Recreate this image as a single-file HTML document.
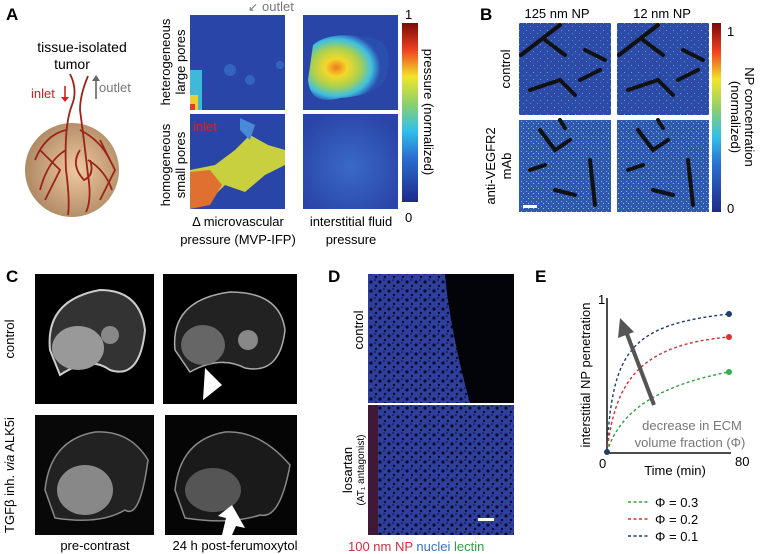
<!DOCTYPE html>
<html><head><meta charset="utf-8"><style>
body{margin:0;background:#fff;width:764px;height:554px;overflow:hidden}
svg{display:block;font-family:"Liberation Sans",sans-serif}
</style></head><body>
<svg width="764" height="554" viewBox="0 0 764 554" xmlns="http://www.w3.org/2000/svg">
<defs>
<linearGradient id="jet" x1="0" y1="1" x2="0" y2="0">
<stop offset="0" stop-color="#1e2a8a"/><stop offset="0.25" stop-color="#2a6fd0"/><stop offset="0.4" stop-color="#31c0e8"/><stop offset="0.55" stop-color="#8ed06a"/><stop offset="0.7" stop-color="#f1e52a"/><stop offset="0.85" stop-color="#f04020"/><stop offset="1" stop-color="#7a0a0a"/>
</linearGradient>
<radialGradient id="sph" cx="0.55" cy="0.5" r="0.6"><stop offset="0" stop-color="#f0c8a0"/><stop offset="1" stop-color="#a8845e"/></radialGradient>
<radialGradient id="ifp" cx="0.35" cy="0.5" r="0.55"><stop offset="0" stop-color="#f07a20"/><stop offset="0.25" stop-color="#f3d82a"/><stop offset="0.55" stop-color="#a8d050"/><stop offset="0.8" stop-color="#40c0e0"/><stop offset="1" stop-color="#2a4fb0"/></radialGradient>
<radialGradient id="ifp2" cx="0.5" cy="0.55" r="0.6"><stop offset="0" stop-color="#3a6ac8"/><stop offset="1" stop-color="#2a45a8"/></radialGradient>
<pattern id="speck" width="9" height="9" patternUnits="userSpaceOnUse">
<rect width="9" height="9" fill="#2f3f9c"/><circle cx="2" cy="3" r="1.6" fill="#0a0a30"/><circle cx="7" cy="7" r="1.2" fill="#0a0a30"/><circle cx="6" cy="1" r="0.8" fill="#0a0a30"/>
</pattern>
<pattern id="bnoise" width="7" height="7" patternUnits="userSpaceOnUse">
<rect width="7" height="7" fill="#2c4ca8"/><rect x="1" y="2" width="1" height="1" fill="#5aa0e0"/><rect x="5" y="5" width="1" height="1" fill="#4a88d0"/>
</pattern>
<pattern id="bnoise2" width="5" height="5" patternUnits="userSpaceOnUse">
<rect width="5" height="5" fill="#3058b0"/><rect x="1" y="1" width="1" height="1" fill="#6ab8e0"/><rect x="3" y="3" width="1" height="1" fill="#8ad0c0"/>
</pattern>
</defs>

<g font-weight="bold" font-size="17" fill="#000">
<text x="6" y="20">A</text><text x="480" y="20">B</text>
<text x="6" y="282">C</text><text x="328" y="282">D</text><text x="535" y="282">E</text>
</g>

<text x="82" y="52" font-size="14" text-anchor="middle">tissue-isolated</text>
<text x="72" y="69" font-size="14" text-anchor="middle">tumor</text>
<text x="31" y="98" font-size="13" fill="#d02020">inlet</text>
<path d="M65 86 V100" stroke="#d02020" stroke-width="1.6"/><path d="M61 97 L65 102 L69 97Z" fill="#d02020"/>
<path d="M96 99 V78" stroke="#666" stroke-width="1.6"/><path d="M92 81 L96 75 L100 81Z" fill="#666"/>
<text x="99" y="92" font-size="13" fill="#777">outlet</text>
<circle cx="72" cy="170" r="47" fill="url(#sph)"/>
<g stroke="#9a2418" stroke-width="1.8" fill="none">
<path d="M70 74 Q78 90 72 105 Q64 125 66 170 Q70 200 68 215"/>
<path d="M88 76 Q80 95 80 110 Q84 140 88 175 Q92 200 86 212"/>
<path d="M66 130 Q45 135 35 160 M66 150 Q48 160 40 190 M80 130 Q100 140 110 160 M88 160 Q105 170 112 190 M80 150 Q70 165 84 180 Q95 175 90 160"/>
<path d="M40 150 L60 170 L45 200 M100 140 L115 170 L100 200"/>
</g>

<rect x="190" y="15" width="95" height="95" fill="#2a45a8"/>
<g fill="#3a7ad0" opacity="0.6"><circle cx="230" cy="70" r="6"/><circle cx="250" cy="80" r="5"/><circle cx="280" cy="65" r="4"/></g>
<g><rect x="190" y="70" width="12" height="40" fill="#40b8d8"/><rect x="190" y="95" width="8" height="15" fill="#e8d030"/><rect x="190" y="104" width="5" height="6" fill="#e04020"/></g>
<rect x="303" y="15" width="95" height="95" fill="#2a45a8"/>
<path d="M313 45 Q330 30 370 38 Q392 40 388 70 Q385 95 340 98 Q310 106 308 80 Z" fill="url(#ifp)"/>
<rect x="190" y="114" width="95" height="95" fill="#2a45a8"/>
<path d="M190 170 L215 165 L235 150 L250 135 L268 145 L285 150 L285 165 L265 175 L245 192 L225 185 L210 200 L190 209 Z" fill="#c8d040"/>
<path d="M190 172 L210 170 L222 185 L210 205 L190 209Z" fill="#e07030"/>
<path d="M240 118 L255 125 L250 140 L240 130Z" fill="#4a88d8"/>
<rect x="303" y="114" width="95" height="95" fill="url(#ifp2)"/>
<text x="248" y="11" font-size="12" fill="#777">↙</text><text x="262" y="11" font-size="13" fill="#777">outlet</text>
<text x="193" y="131" font-size="13" fill="#e02020">inlet</text>
<text x="170" y="62" font-size="13" text-anchor="middle" transform="rotate(-90 170 62)">heterogeneous</text>
<text x="185" y="62" font-size="13" text-anchor="middle" transform="rotate(-90 185 62)">large pores</text>
<text x="170" y="165" font-size="13" text-anchor="middle" transform="rotate(-90 170 165)">homogeneous</text>
<text x="185" y="165" font-size="13" text-anchor="middle" transform="rotate(-90 185 165)">small pores</text>
<text x="238" y="226" font-size="13" text-anchor="middle">Δ microvascular</text>
<text x="238" y="244" font-size="13" text-anchor="middle">pressure (MVP-IFP)</text>
<text x="351" y="226" font-size="13" text-anchor="middle">interstitial fluid</text>
<text x="351" y="244" font-size="13" text-anchor="middle">pressure</text>
<rect x="402" y="23" width="16" height="179" fill="url(#jet)"/>
<text x="405" y="19" font-size="13">1</text><text x="405" y="222" font-size="13">0</text>
<text x="424" y="112" font-size="13" text-anchor="middle" transform="rotate(90 424 112)">pressure (normalized)</text>

<text x="557" y="18" font-size="13" text-anchor="middle">125 nm NP</text>
<text x="662" y="18" font-size="13" text-anchor="middle">12 nm NP</text>
<g>
<rect x="519" y="23" width="92" height="92" fill="url(#bnoise)"/><rect x="617" y="23" width="92" height="92" fill="url(#bnoise)"/>
<rect x="519" y="120" width="92" height="92" fill="url(#bnoise2)"/><rect x="617" y="120" width="92" height="92" fill="url(#bnoise2)"/>
<g stroke="#111" stroke-width="4" fill="none" stroke-linecap="round">
<path d="M521 55 L560 25 M545 40 L565 55 M530 90 L560 80 L575 95 M580 80 L600 70 M585 50 L605 60"/>
<path d="M619 55 L658 25 M643 40 L663 55 M628 90 L658 80 L673 95 M678 80 L698 70 M683 50 L703 60"/>
<path d="M540 130 L555 150 L570 140 M530 170 L545 165 M555 190 L575 195 M590 160 L595 205 M560 120 L565 128"/>
<path d="M638 130 L653 150 L668 140 M628 170 L643 165 M653 190 L673 195 M688 160 L693 205 M658 120 L663 128"/>
</g>
<rect x="523" y="205" width="14" height="3" fill="#fff"/>
</g>
<rect x="712" y="23" width="9" height="189" fill="url(#jet)"/>
<text x="727" y="36" font-size="13">1</text><text x="727" y="213" font-size="13">0</text>
<text x="745" y="117" font-size="13" text-anchor="middle" transform="rotate(90 745 117)">NP concentration</text>
<text x="731" y="117" font-size="13" text-anchor="middle" transform="rotate(90 731 117)">(normalized)</text>
<text x="510" y="69" font-size="13" text-anchor="middle" transform="rotate(-90 510 69)">control</text>
<text x="495" y="166" font-size="13" text-anchor="middle" transform="rotate(-90 495 166)">anti-VEGFR2</text>
<text x="511" y="166" font-size="13" text-anchor="middle" transform="rotate(-90 511 166)">mAb</text>

<rect x="35" y="274" width="119" height="130" fill="#000"/><rect x="163" y="274" width="134" height="130" fill="#000"/>
<rect x="35" y="415" width="119" height="120" fill="#080808"/><rect x="165" y="415" width="132" height="120" fill="#050505"/>
<path d="M50 350 Q45 300 100 290 Q140 290 145 330 Q140 380 110 370 Q90 355 60 375Z" fill="#333" stroke="#ccc" stroke-width="2"/>
<ellipse cx="78" cy="348" rx="26" ry="22" fill="#999"/><circle cx="110" cy="335" r="9" fill="#888"/>
<path d="M175 350 Q170 300 230 292 Q280 292 285 330 Q280 375 245 368 Q220 355 190 372Z" fill="#222" stroke="#aaa" stroke-width="1.5"/>
<ellipse cx="203" cy="345" rx="22" ry="20" fill="#666"/><circle cx="248" cy="340" r="10" fill="#888"/>
<path d="M203 400 L222 385 L205 368Z" fill="#fff"/>
<path d="M45 490 Q50 440 95 432 Q130 430 148 460 Q140 520 125 510 Q100 525 55 518Z" fill="#222" stroke="#888" stroke-width="1.5"/>
<ellipse cx="85" cy="490" rx="28" ry="25" fill="#888"/>
<path d="M175 490 Q180 440 225 432 Q260 430 290 465 Q280 520 260 515 Q230 525 185 518Z" fill="#1a1a1a" stroke="#888" stroke-width="1.5"/>
<ellipse cx="213" cy="490" rx="28" ry="22" fill="#555"/>
<path d="M222 535 L226 518 L218 516 L232 505 L245 528 L236 526 L232 535Z" fill="#fff"/>
<text x="14" y="339" font-size="13" text-anchor="middle" transform="rotate(-90 14 339)">control</text>
<text x="14" y="475" font-size="13" text-anchor="middle" transform="rotate(-90 14 475)">TGFβ inh. <tspan font-style="italic">via</tspan> ALK5i</text>
<text x="95" y="550" font-size="13" text-anchor="middle">pre-contrast</text>
<text x="235" y="550" font-size="13" text-anchor="middle">24 h post-ferumoxytol</text>

<rect x="368" y="274" width="146" height="129" fill="#03030a"/>
<path d="M368 274 H445 Q450 330 470 403 H368Z" fill="url(#speck)"/>
<rect x="368" y="405" width="146" height="130" fill="url(#speck)"/>
<rect x="368" y="405" width="10" height="130" fill="#401838"/>
<rect x="478" y="518" width="16" height="3" fill="#fff"/>
<text x="363" y="330" font-size="13" text-anchor="middle" transform="rotate(-90 363 330)">control</text>
<text x="352" y="470" font-size="13" text-anchor="middle" transform="rotate(-90 352 470)">losartan</text>
<text x="364" y="470" font-size="10" text-anchor="middle" transform="rotate(-90 364 470)">(AT₁ antagonist)</text>
<text x="348" y="551" font-size="13" fill="#d03040">100 nm NP <tspan fill="#3a70c0">nuclei</tspan> <tspan fill="#30a040">lectin</tspan></text>

<path d="M607 298 V453 H731" stroke="#111" stroke-width="1.5" fill="none"/>
<text x="598" y="304" font-size="13">1</text>
<text x="599" y="468" font-size="13">0</text><text x="735" y="466" font-size="13">80</text>
<text x="675" y="475" font-size="13" text-anchor="middle">Time (min)</text>
<text x="590" y="375" font-size="13" text-anchor="middle" transform="rotate(-90 590 375)">interstitial NP penetration</text>
<g fill="none" stroke-width="1.4" stroke-dasharray="3,2.5">
<path d="M607 452 C612 350 630 325 729 314" stroke="#1f3e70"/>
<path d="M607 452 C615 380 640 345 729 337" stroke="#d03030"/>
<path d="M607 452 C620 410 660 385 729 372" stroke="#30a040"/>
</g>
<circle cx="729" cy="314" r="3" fill="#1f3e70"/><circle cx="729" cy="337" r="3" fill="#e03030"/><circle cx="729" cy="372" r="3" fill="#30b050"/><circle cx="607" cy="452" r="3" fill="#1f3e70"/>
<path d="M654 405 L627 334" stroke="#555" stroke-width="4"/><path d="M620 318 L618 338 L634 332Z" fill="#555"/>
<text x="692" y="430" font-size="13" fill="#777" text-anchor="middle">decrease in ECM</text>
<text x="690" y="447" font-size="13" fill="#777" text-anchor="middle">volume fraction (Φ)</text>
<g stroke-width="1.4" stroke-dasharray="3,2.5">
<path d="M628 502 H650" stroke="#30a040"/><path d="M628 519 H650" stroke="#d03030"/><path d="M628 536 H650" stroke="#1f3e70"/>
</g>
<g font-size="13"><text x="655" y="507">Φ = 0.3</text><text x="655" y="524">Φ = 0.2</text><text x="655" y="541">Φ = 0.1</text></g>
</svg>
</body></html>
